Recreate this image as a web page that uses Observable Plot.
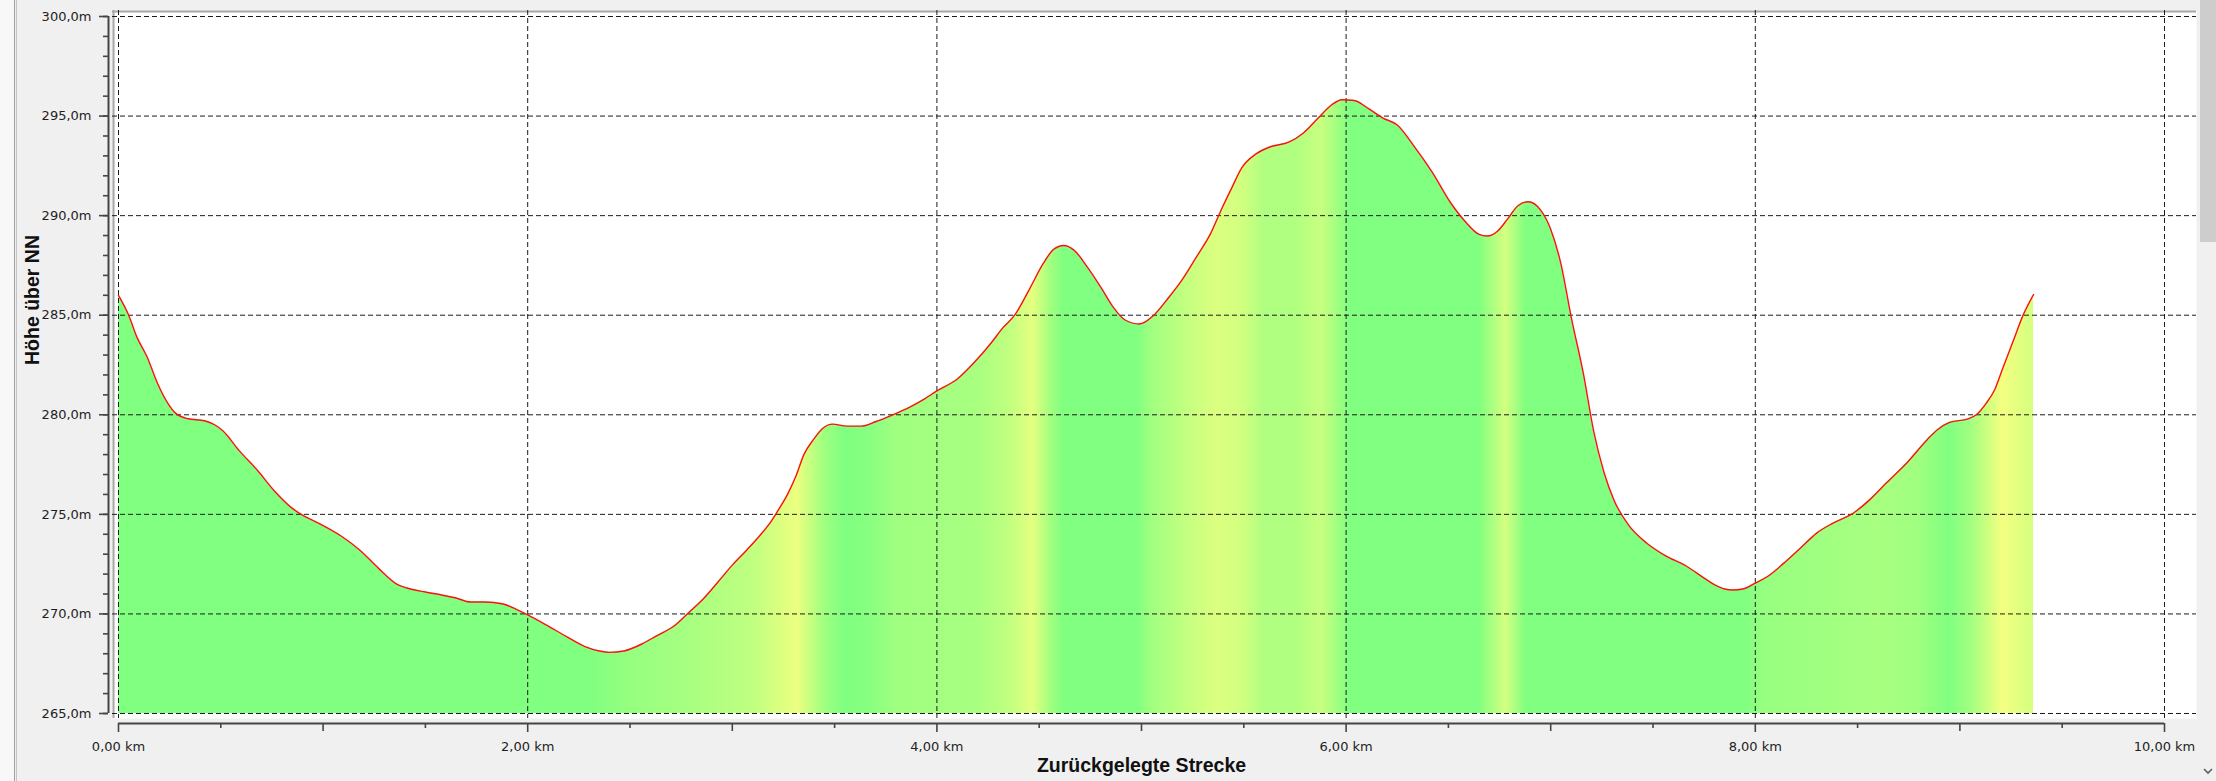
<!DOCTYPE html>
<html>
<head>
<meta charset="utf-8">
<script src="https://cdn.jsdelivr.net/npm/d3@7"></script>
<script src="https://cdn.jsdelivr.net/npm/@observablehq/plot@0.6"></script>
<style>
  html, body { margin: 0; padding: 0; width: 2216px; height: 781px; overflow: hidden; background: #f0f0f0; }
  .deco { position: absolute; }
  #chart { position: absolute; left: 0; top: 0; }
</style>
</head>
<body>
<div class="deco" style="left:0;top:0;width:14px;height:781px;background:#f8f8f8"></div>
<div class="deco" style="left:14px;top:0;width:1px;height:781px;background:#a0a0a0"></div>
<div class="deco" style="left:16px;top:0;width:1px;height:781px;background:#c4c4c4"></div>
<div class="deco" style="left:2199px;top:0;width:17px;height:781px;background:#f0f0f0"></div>
<div class="deco" style="left:2200px;top:0;width:16px;height:242px;background:#cdcdcd"></div>
<svg class="deco" style="left:2201px;top:766px" width="14" height="12"><polyline points="3,3 7,7 11,3" fill="none" stroke="#606060" stroke-width="1.6"/></svg>
<div id="chart"></div>
<script>
// ---- data ----
const distanceKm = [0.00,0.05,0.09,0.14,0.19,0.24,0.28,0.34,0.42,0.47,0.51,0.59,0.68,0.76,0.85,0.91,0.97,1.09,1.18,1.27,1.36,1.41,1.50,1.58,1.65,1.72,1.79,1.88,1.95,2.00,2.09,2.19,2.28,2.35,2.40,2.47,2.56,2.63,2.72,2.78,2.86,2.93,3.00,3.07,3.14,3.19,3.23,3.27,3.31,3.35,3.40,3.44,3.49,3.56,3.63,3.70,3.78,3.87,3.94,4.00,4.10,4.18,4.27,4.32,4.38,4.45,4.52,4.57,4.62,4.67,4.74,4.81,4.86,4.92,4.99,5.06,5.13,5.20,5.27,5.34,5.39,5.44,5.49,5.56,5.63,5.72,5.79,5.86,5.93,5.98,6.04,6.11,6.18,6.25,6.33,6.42,6.51,6.58,6.65,6.69,6.74,6.79,6.84,6.89,6.95,7.00,7.05,7.10,7.16,7.21,7.26,7.31,7.38,7.47,7.56,7.66,7.75,7.80,7.85,7.89,7.94,8.00,8.06,8.14,8.22,8.30,8.38,8.48,8.56,8.64,8.74,8.84,8.89,8.95,9.04,9.08,9.13,9.17,9.21,9.26,9.31,9.36];
const elevationM = [286.0,285.0,283.9,282.9,281.6,280.6,280.07,279.8,279.7,279.5,279.2,278.2,277.2,276.2,275.3,274.9,274.6,273.9,273.2,272.3,271.5,271.3,271.1,270.95,270.8,270.6,270.6,270.5,270.2,269.95,269.45,268.86,268.36,268.14,268.07,268.14,268.5,268.9,269.43,270.0,270.77,271.6,272.45,273.2,274.0,274.65,275.3,276.0,276.9,278.0,278.8,279.3,279.53,279.43,279.43,279.65,279.98,280.4,280.8,281.2,281.8,282.6,283.67,284.34,285.0,286.26,287.6,288.3,288.5,288.27,287.35,286.26,285.43,284.76,284.56,285.0,285.85,286.8,287.95,289.15,290.3,291.37,292.4,293.1,293.46,293.69,294.14,294.86,295.57,295.82,295.78,295.37,294.9,294.55,293.52,292.2,290.66,289.73,289.06,288.98,289.22,289.84,290.5,290.7,290.29,289.32,287.58,284.92,282.05,279.18,277.13,275.7,274.47,273.55,272.93,272.42,271.8,271.47,271.25,271.2,271.25,271.55,271.88,272.55,273.3,274.06,274.56,275.07,275.74,276.57,277.58,278.75,279.25,279.62,279.79,280.0,280.6,281.26,282.35,283.69,285.03,286.04];

// colour bands of the fill (slope colouring), by distance
const bandKm =    [0.00,     2.30,     2.50,     2.80,     3.10,     3.32,     3.45,     3.55,     3.68,     3.80,     4.20,     4.35,     4.47,     4.56,     4.62,     4.98,     5.05,     5.20,     5.37,     5.50,     5.60,     5.75,     5.88,     5.96,     6.02,     6.65,     6.78,     6.88,     7.95,     8.05,     8.60,     8.80,     8.95,     9.05,     9.21,     9.36];
const bandColor = ["#80ff80","#80ff80","#95ff80","#a8ff80","#c0ff80","#ecff80","#a0ff80","#80ff80","#88ff80","#a0ff80","#a8ff80","#c0ff80","#e4ff80","#a0ff80","#80ff80","#80ff80","#a0ff80","#c0ff80","#dcff80","#d0ff80","#b0ff80","#b0ff80","#c8ff80","#a0ff80","#80ff80","#80ff80","#d4ff80","#80ff80","#80ff80","#98ff80","#a8ff80","#a0ff80","#80ff80","#a0ff80","#f4ff80","#d4ff80"];

const yTicks = [265, 270, 275, 280, 285, 290, 295, 300];
const yMinorTicks = d3.range(265, 301, 1);
const xTicks = [0, 2, 4, 6, 8, 10];
const xKmTicks = [1, 3, 5, 7, 9];
const xHalfTicks = [0.5, 1.5, 2.5, 3.5, 4.5, 5.5, 6.5, 7.5, 8.5, 9.5];
const xTitle = "Zurückgelegte Strecke";
const yTitle = "Höhe über NN";

const fmtM = d => d.toFixed(1).replace(".", ",") + "m";
const fmtKm = d => d.toFixed(2).replace(".", ",") + " km";

const profile = distanceKm.map((km, i) => ({km, m: elevationM[i]}));

const axisColor = "#454545";
const gridColor = "#1c1c1c";

const plot = Plot.plot({
  width: 2216,
  height: 781,
  marginLeft: 118,
  marginRight: 52,
  marginTop: 16,
  marginBottom: 68,
  style: {background: "transparent", fontFamily: "DejaVu Sans", fontSize: "13px", color: "#1e1e1e", overflow: "visible"},
  x: {domain: [xTicks[0], xTicks[xTicks.length - 1]]},
  y: {domain: [yTicks[0], yTicks[yTicks.length - 1]]},
  marks: [
    Plot.frame({fill: "white", stroke: null, insetLeft: -6, insetRight: -32, insetTop: -6, insetBottom: -5}),
    Plot.ruleX([xTicks[0]], {dx: -5, insetTop: -6, insetBottom: -5, stroke: "#a6a6a6", strokeWidth: 2}),
    Plot.ruleY([yTicks[yTicks.length - 1]], {dy: -5, insetLeft: -6, insetRight: -32, stroke: "#a6a6a6", strokeWidth: 2}),
    Plot.areaY(profile, {x: "km", y1: () => yTicks[0], y2: "m", curve: "monotone-x", fill: "url(#slopeGradient)"}),
    Plot.ruleY(yTicks, {insetLeft: -6, insetRight: -32, stroke: gridColor, strokeWidth: 1, strokeDasharray: "5,3"}),
    Plot.ruleX(xTicks, {insetTop: -6, insetBottom: -5, stroke: gridColor, strokeWidth: 1, strokeDasharray: "5,3"}),
    Plot.line(profile, {x: "km", y: "m", curve: "monotone-x", stroke: "#ff1010", strokeWidth: 1.4}),
    // y axis
    Plot.ruleX([xTicks[0]], {dx: -10, stroke: axisColor, strokeWidth: 2}),
    Plot.axisY(yTicks, {anchor: "left", tickSize: 9, tickPadding: 8, dx: -10, tickFormat: fmtM, stroke: axisColor, strokeWidth: 1.6, fill: "#1e1e1e", label: null}),
    Plot.axisY(yMinorTicks, {anchor: "left", tickSize: 5, dx: -10, text: null, stroke: axisColor, strokeWidth: 1.6, label: null}),
    // x axis
    Plot.ruleY([yTicks[0]], {dy: 10, stroke: axisColor, strokeWidth: 2}),
    Plot.axisX(xTicks, {anchor: "bottom", tickSize: 9, tickPadding: 9, dy: 10, tickFormat: fmtKm, stroke: axisColor, strokeWidth: 1.6, fill: "#1e1e1e", label: null}),
    Plot.axisX(xKmTicks, {anchor: "bottom", tickSize: 8, dy: 10, text: null, stroke: axisColor, strokeWidth: 1.6, label: null}),
    Plot.axisX(xHalfTicks, {anchor: "bottom", tickSize: 5, dy: 10, text: null, stroke: axisColor, strokeWidth: 1.6, label: null}),
    // titles
    Plot.text([xTitle], {text: d => d, frameAnchor: "bottom", dy: 52, lineAnchor: "middle", fontFamily: "Liberation Sans", fontWeight: "bold", fontSize: 19.5, fill: "#111"}),
    Plot.text([yTitle], {text: d => d, frameAnchor: "left", dx: -86, rotate: -90, lineAnchor: "middle", fontFamily: "Liberation Sans", fontWeight: "bold", fontSize: 19.5, fill: "#111"})
  ]
});

// slope colour gradient along the distance axis, positioned via the x scale
const svg = d3.select(plot);
const xs = plot.scale("x");
const k0 = bandKm[0], k1 = bandKm[bandKm.length - 1];
const grad = svg.insert("defs", ":first-child")
  .append("linearGradient")
  .attr("id", "slopeGradient")
  .attr("gradientUnits", "userSpaceOnUse")
  .attr("x1", xs.apply(k0)).attr("x2", xs.apply(k1))
  .attr("y1", 0).attr("y2", 0);
bandKm.forEach((k, i) => {
  grad.append("stop").attr("offset", (k - k0) / (k1 - k0)).attr("stop-color", bandColor[i]);
});
svg.selectAll("g[aria-label='area']").attr("fill", "url(#slopeGradient)");

document.getElementById("chart").appendChild(plot);
</script>
</body>
</html>
